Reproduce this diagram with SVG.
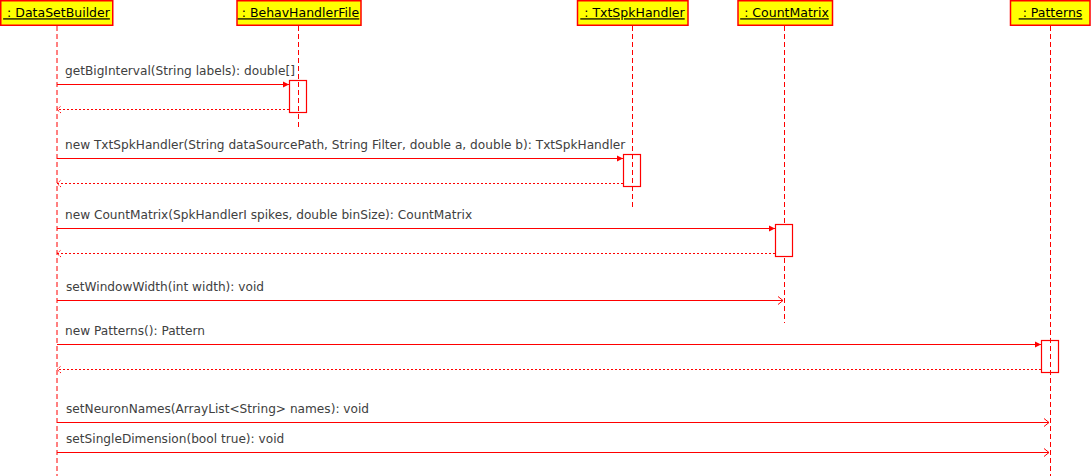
<svg xmlns="http://www.w3.org/2000/svg" width="1091" height="476" viewBox="0 0 1091 476">
<style>
.hdr{fill:#ffff00;stroke:#ff0000;stroke-width:1.5}
.hdrt{font-family:"DejaVu Sans",sans-serif;font-size:12.5px;fill:#000;text-decoration:underline;text-anchor:middle;white-space:pre}
.life{stroke:#ff0000;stroke-width:1;stroke-dasharray:5,3;fill:none}
.act{fill:none;stroke:#ff0000;stroke-width:1.2}
.actw{fill:#fff;stroke:#ff0000;stroke-width:1.2}
.msg{stroke:#ff0000;stroke-width:1;fill:none}
.ret{stroke:#ff0000;stroke-width:1;stroke-dasharray:2,2;fill:none}
.lbl{font-family:"DejaVu Sans",sans-serif;font-size:12.15px;fill:#404040}
</style>
<defs>
<marker id="sync" markerWidth="8" markerHeight="8" refX="7" refY="4" orient="auto" markerUnits="userSpaceOnUse">
<path d="M1,1 L7,4 L1,7 Z" fill="#ff0000"/>
</marker>
<marker id="open" markerWidth="8" markerHeight="10" refX="7" refY="5" orient="auto" markerUnits="userSpaceOnUse">
<path d="M2,1 L7,5 L2,9" fill="none" stroke="#ff0000" stroke-width="1"/>
</marker>
<marker id="openr" markerWidth="8" markerHeight="10" refX="7" refY="5" orient="auto" markerUnits="userSpaceOnUse">
<path d="M3,1.5 L7,5 L3,8.5" fill="none" stroke="#ff0000" stroke-width="1" stroke-dasharray="1.5,1"/>
</marker>
</defs>

<g id="DataSetBuilder">
<rect class="hdr" x="0.75" y="0.75" width="112" height="24.5"/>
<text class="hdrt" x="56.5" y="17.3" xml:space="preserve"> : DataSetBuilder</text>
<line class="life" x1="57" y1="26" x2="57" y2="476"/>
</g>
<g id="BehavHandlerFile">
<rect class="hdr" x="237" y="0.75" width="124" height="24.5"/>
<text class="hdrt" x="298.5" y="17.3" xml:space="preserve"> : BehavHandlerFile</text>
<line class="life" x1="298.5" y1="26" x2="298.5" y2="130"/>
<rect class="act" x="289.5" y="80.5" width="17" height="32"/>
</g>
<g id="TxtSpkHandler">
<rect class="hdr" x="577.5" y="0.75" width="110.5" height="24.5"/>
<text class="hdrt" x="632.5" y="17.3" xml:space="preserve"> : TxtSpkHandler</text>
<line class="life" x1="632.5" y1="26" x2="632.5" y2="207"/>
<rect class="act" x="623.5" y="154.5" width="17" height="32"/>
</g>
<g id="CountMatrix">
<rect class="hdr" x="738" y="0.75" width="94.5" height="24.5"/>
<text class="hdrt" x="784.5" y="17.3" xml:space="preserve"> : CountMatrix</text>
<line class="life" x1="784.5" y1="26" x2="784.5" y2="323"/>
<rect class="actw" x="775.5" y="224.5" width="17" height="32"/>
</g>
<g id="Patterns">
<rect class="hdr" x="1010.5" y="0.75" width="79.5" height="24.5"/>
<text class="hdrt" x="1050.5" y="17.3" xml:space="preserve"> : Patterns</text>
<line class="life" x1="1050.5" y1="26" x2="1050.5" y2="476"/>
<rect class="act" x="1041.5" y="340.5" width="17" height="32"/>
</g>

<g id="connectors">
<line class="msg" x1="57" y1="84.5" x2="289" y2="84.5" marker-end="url(#sync)"/>
<line class="ret" x1="289" y1="109.5" x2="57" y2="109.5" marker-end="url(#openr)"/>
<line class="msg" x1="57" y1="158.5" x2="623" y2="158.5" marker-end="url(#sync)"/>
<line class="ret" x1="623" y1="183.5" x2="57" y2="183.5" marker-end="url(#openr)"/>
<line class="msg" x1="57" y1="228.5" x2="775" y2="228.5" marker-end="url(#sync)"/>
<line class="ret" x1="775" y1="253.5" x2="57" y2="253.5" marker-end="url(#openr)"/>
<line class="msg" x1="57" y1="300.5" x2="783" y2="300.5" marker-end="url(#open)"/>
<line class="msg" x1="57" y1="344.5" x2="1041" y2="344.5" marker-end="url(#sync)"/>
<line class="ret" x1="1041" y1="369.5" x2="57" y2="369.5" marker-end="url(#openr)"/>
<line class="msg" x1="57" y1="422.5" x2="1049" y2="422.5" marker-end="url(#open)"/>
<line class="msg" x1="57" y1="452.5" x2="1049" y2="452.5" marker-end="url(#open)"/>
</g>

<g id="labels">
<text class="lbl" x="65" y="75">getBigInterval(String labels): double[]</text>
<text class="lbl" x="65" y="149">new TxtSpkHandler(String dataSourcePath, String Filter, double a, double b): TxtSpkHandler</text>
<text class="lbl" x="65" y="219">new CountMatrix(SpkHandlerI spikes, double binSize): CountMatrix</text>
<text class="lbl" x="66" y="291">setWindowWidth(int width): void</text>
<text class="lbl" x="65" y="335">new Patterns(): Pattern</text>
<text class="lbl" x="66" y="413">setNeuronNames(ArrayList&lt;String&gt; names): void</text>
<text class="lbl" x="66" y="443">setSingleDimension(bool true): void</text>
</g>
</svg>
